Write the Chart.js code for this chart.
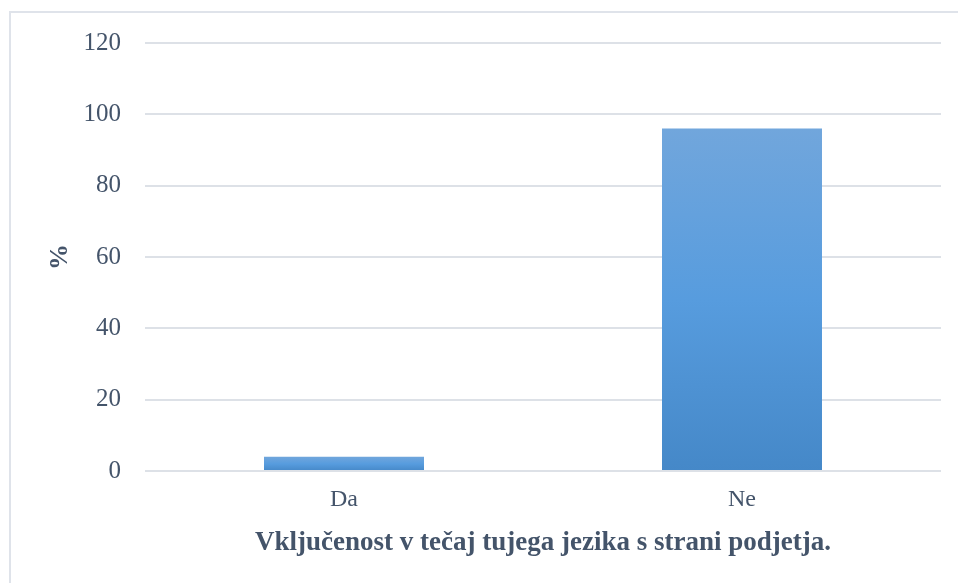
<!DOCTYPE html>
<html>
<head>
<meta charset="utf-8">
<script src="https://cdn.jsdelivr.net/npm/chart.js@4.4.1/dist/chart.umd.min.js"></script>
<style>
  html, body { margin: 0; padding: 0; background: #fff; }
  #wrap { position: relative; width: 958px; height: 583px; overflow: hidden; }
  #frame { position: absolute; left: 9px; top: 11px; width: 960px; height: 600px;
           border-left: 2px solid #dfe3ea; border-top: 2px solid #dfe3ea; }
  canvas { position: absolute; left: 0; top: 0; }
</style>
</head>
<body>
<div id="wrap">
  <div id="frame"></div>
  <canvas id="myBar" width="958" height="583"></canvas>
</div>
<script>
const categories = ['Da', 'Ne'];
const percents = [4, 96];
const yTicks = [0, 20, 40, 60, 80, 100, 120];

const textColor = '#44546a';
const gridColor = '#dde1e7';

// gradient per bar, lighter on top like the excel fill
function barFill(ctx) {
  const chart = ctx.chart;
  const y = chart.scales.y;
  if (!chart.chartArea || !y || ctx.parsed === undefined) return '#5b9bd5';
  const top = y.getPixelForValue(ctx.parsed.y);
  const bottom = y.getPixelForValue(0);
  const g = chart.ctx.createLinearGradient(0, top, 0, bottom);
  g.addColorStop(0, '#71a6dc');
  g.addColorStop(0.5, '#579cde');
  g.addColorStop(1, '#4588c8');
  return g;
}

const config = {
  type: 'bar',
  data: {
    labels: categories,
    datasets: [{
      label: '%',
      data: percents,
      backgroundColor: barFill,
      borderWidth: 0,
      categoryPercentage: 1,
      barPercentage: 0.402
    }]
  },
  options: {
    responsive: false,
    animation: false,
    layout: { padding: { left: 0, right: 17, top: 43, bottom: 0 } },
    plugins: {
      legend: { display: false },
      tooltip: { enabled: false }
    },
    scales: {
      x: {
        grid: { display: false },
        border: { display: false },
        ticks: {
          color: textColor,
          font: { family: 'Liberation Serif', size: 24 },
          padding: 6
        },
        title: {
          display: true,
          text: 'Vključenost v tečaj tujega jezika s strani podjetja.',
          color: textColor,
          font: { family: 'Liberation Serif', size: 27, weight: 'bold' },
          padding: { top: 4, bottom: 24 }
        },
        afterFit: (s) => { s.height = 112; }
      },
      y: {
        min: 0,
        max: 120,
        afterBuildTicks: (s) => { s.ticks = yTicks.map(v => ({ value: v })); },
        grid: { color: gridColor, lineWidth: 2, drawTicks: false },
        border: { display: false },
        ticks: {
          color: textColor,
          font: { family: 'Liberation Serif', size: 25 },
          padding: 24
        },
        title: {
          display: true,
          text: '%',
          color: textColor,
          font: { family: 'Liberation Serif', size: 26, weight: 'bold' },
          padding: { top: 45, bottom: 0 }
        },
        afterFit: (s) => { s.width = 145; }
      }
    }
  }
};

const myBar = new Chart(document.getElementById('myBar'), config);
</script>
</body>
</html>
